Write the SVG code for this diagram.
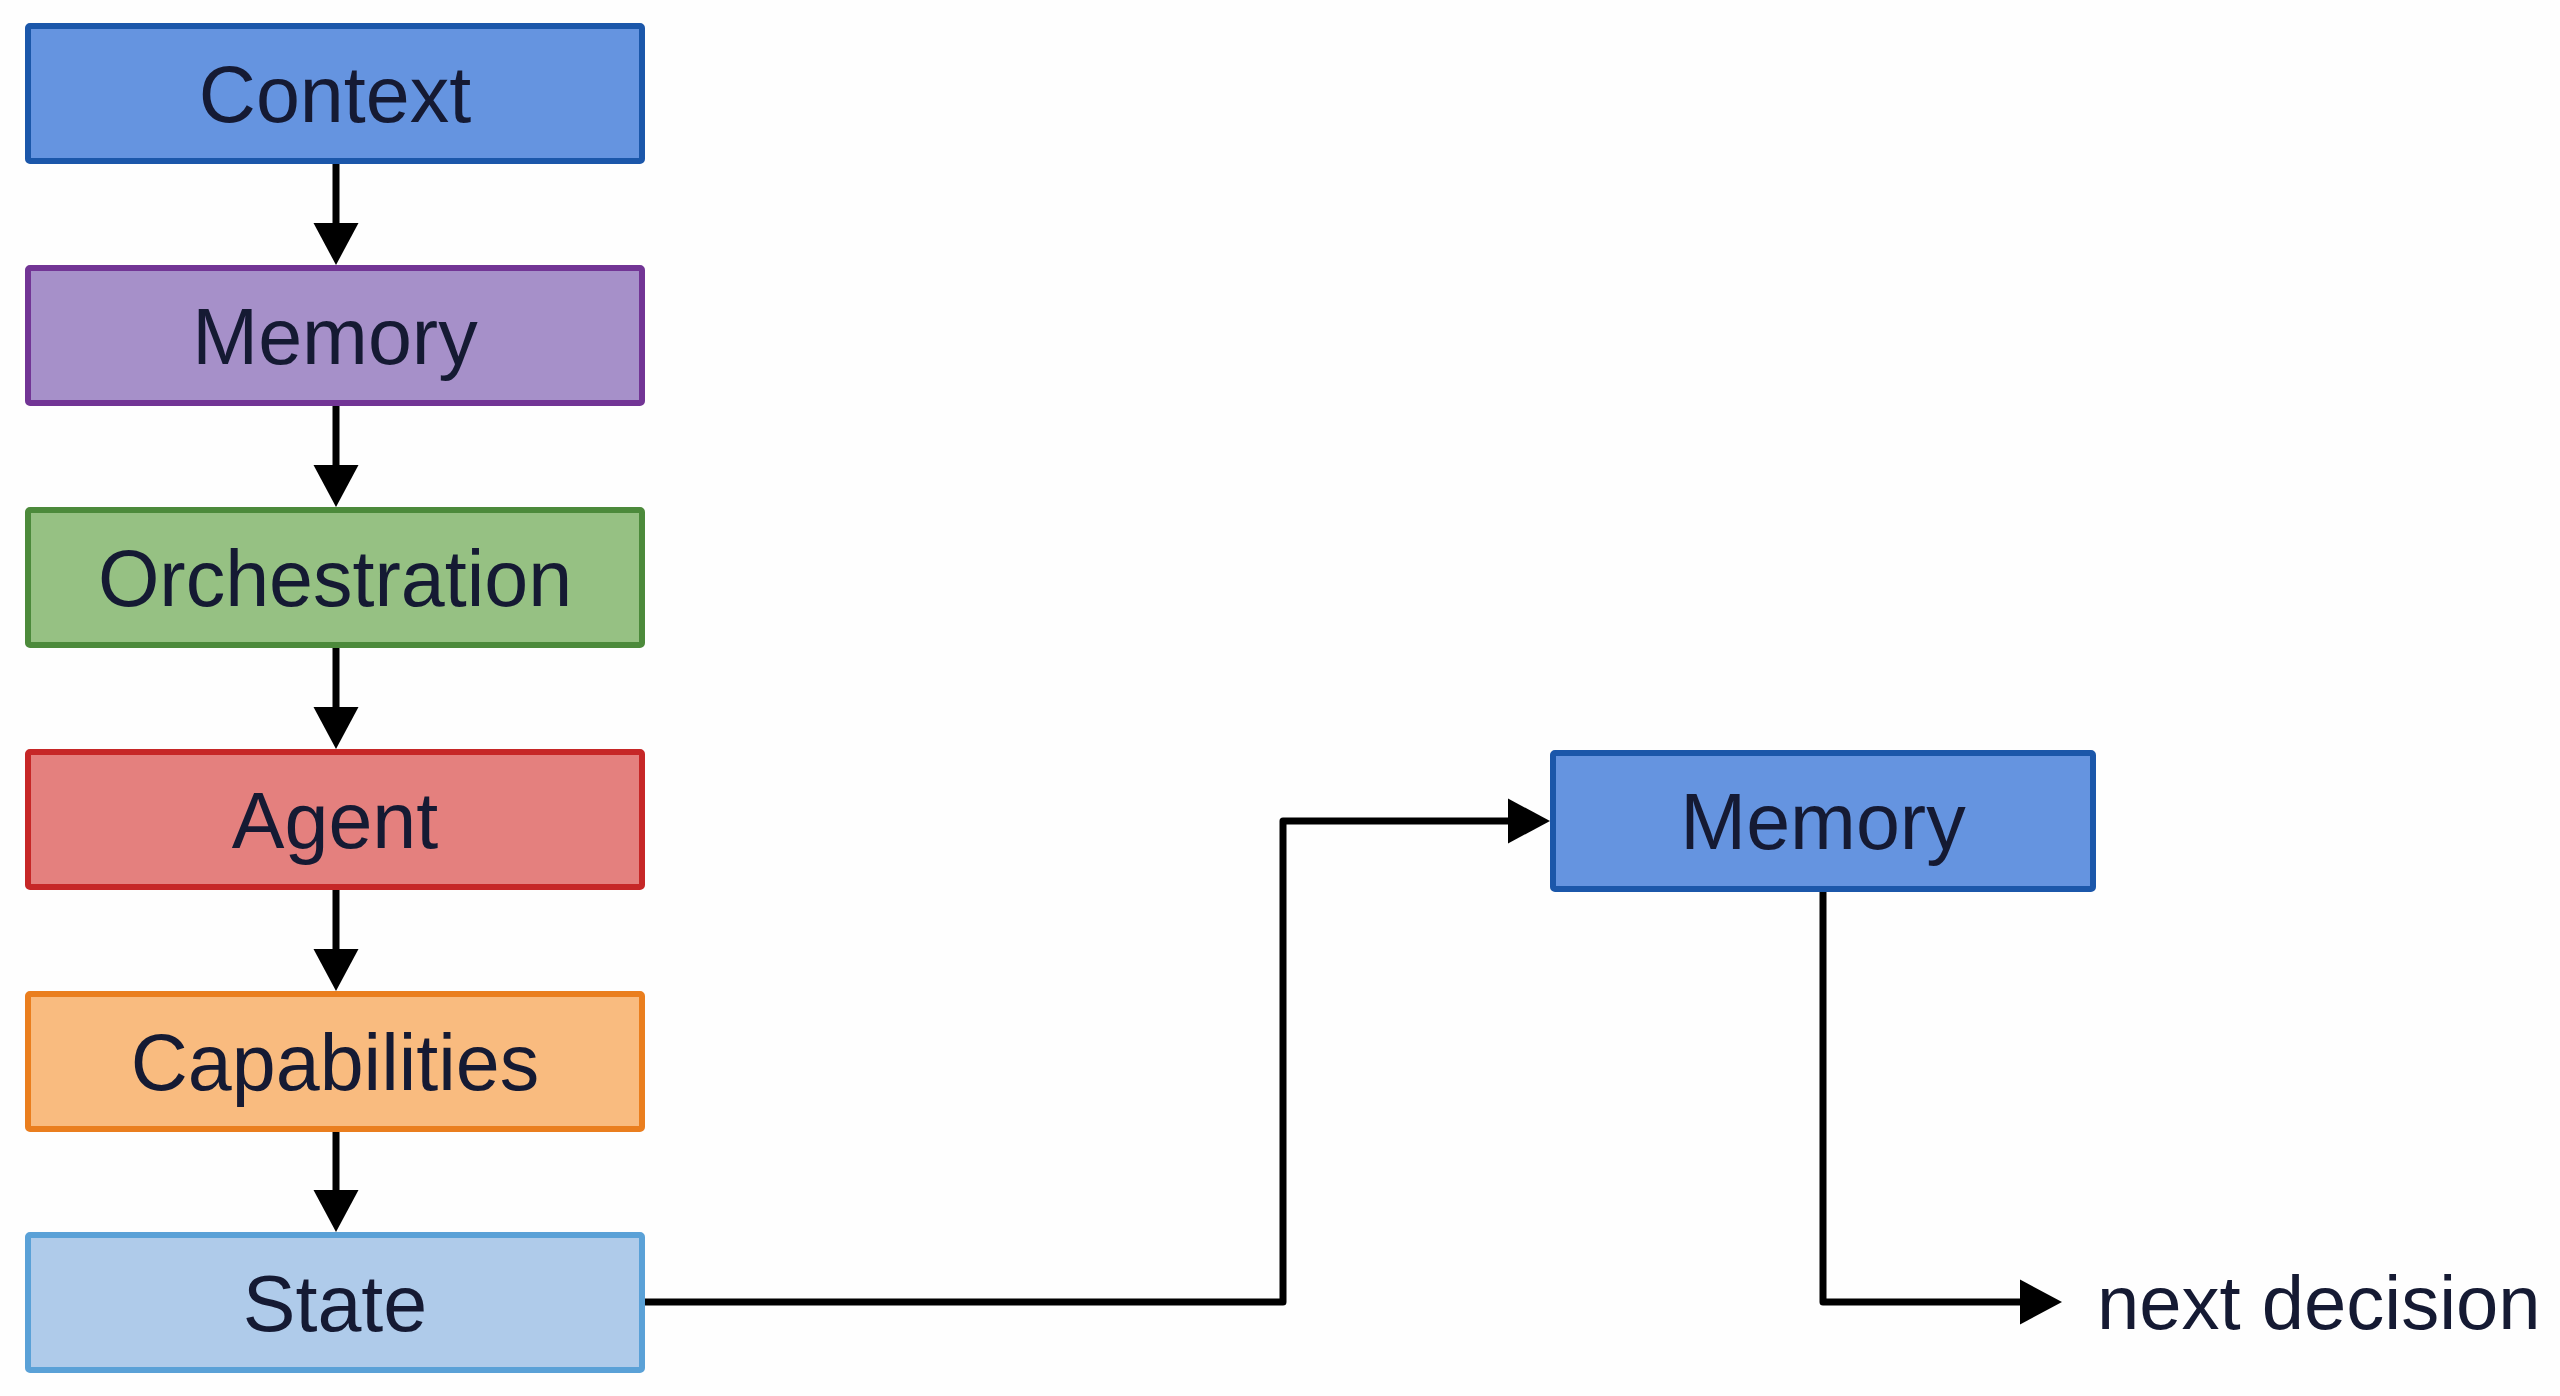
<svg xmlns="http://www.w3.org/2000/svg" width="2560" height="1396" viewBox="0 0 2560 1396">
<style>
.box{stroke-width:6}
.lbl{font-family:"Liberation Sans",Arial,sans-serif;font-size:79px;fill:#151a33;text-anchor:middle}
.con{fill:none;stroke:#000;stroke-width:7;stroke-linejoin:round}
.blue{fill:#6594e0;stroke:#1b57aa}
.purple{fill:#a690c9;stroke:#723595}
.green{fill:#96c183;stroke:#4c8a3b}
.red{fill:#e4807e;stroke:#c62727}
.orange{fill:#f9bb7f;stroke:#ea7e1e}
.light{fill:#afcbea;stroke:#5aa1d7}
</style>
<defs>
<marker id="ah" markerUnits="userSpaceOnUse" markerWidth="42" markerHeight="46" refX="0" refY="22.5" orient="auto" overflow="visible">
<path d="M0,0 L42,22.5 L0,45 Z" fill="#000"/>
</marker>
</defs>
<rect width="2560" height="1396" fill="#fefefe"/>
<g id="connectors">
<path class="con" d="M336,164 V223" marker-end="url(#ah)"/>
<path class="con" d="M336,406 V465" marker-end="url(#ah)"/>
<path class="con" d="M336,648 V707" marker-end="url(#ah)"/>
<path class="con" d="M336,890 V949" marker-end="url(#ah)"/>
<path class="con" d="M336,1131 V1190" marker-end="url(#ah)"/>
<path class="con" d="M645,1302 H1283 V821 H1508" marker-end="url(#ah)"/>
<path class="con" d="M1823,892 V1302 H2020" marker-end="url(#ah)"/>
</g>
<g id="context"><rect class="box blue" x="28" y="26" width="614" height="135" rx="2"/><text class="lbl" x="335" y="122">Context</text></g>
<g id="memory1"><rect class="box purple" x="28" y="268" width="614" height="135" rx="2"/><text class="lbl" x="335" y="364">Memory</text></g>
<g id="orchestration"><rect class="box green" x="28" y="510" width="614" height="135" rx="2"/><text class="lbl" x="335" y="606">Orchestration</text></g>
<g id="agent"><rect class="box red" x="28" y="752" width="614" height="135" rx="2"/><text class="lbl" x="335" y="848">Agent</text></g>
<g id="capabilities"><rect class="box orange" x="28" y="994" width="614" height="135" rx="2"/><text class="lbl" x="335" y="1090">Capabilities</text></g>
<g id="state"><rect class="box light" x="28" y="1235" width="614" height="135" rx="2"/><text class="lbl" x="335" y="1331">State</text></g>
<g id="memory2"><rect class="box blue" x="1553" y="753" width="540" height="136" rx="2"/><text class="lbl" x="1823" y="849">Memory</text></g>
<g id="next"><text class="lbl" x="2097" y="1329" style="text-anchor:start;font-size:76px">next decision</text></g>
</svg>
